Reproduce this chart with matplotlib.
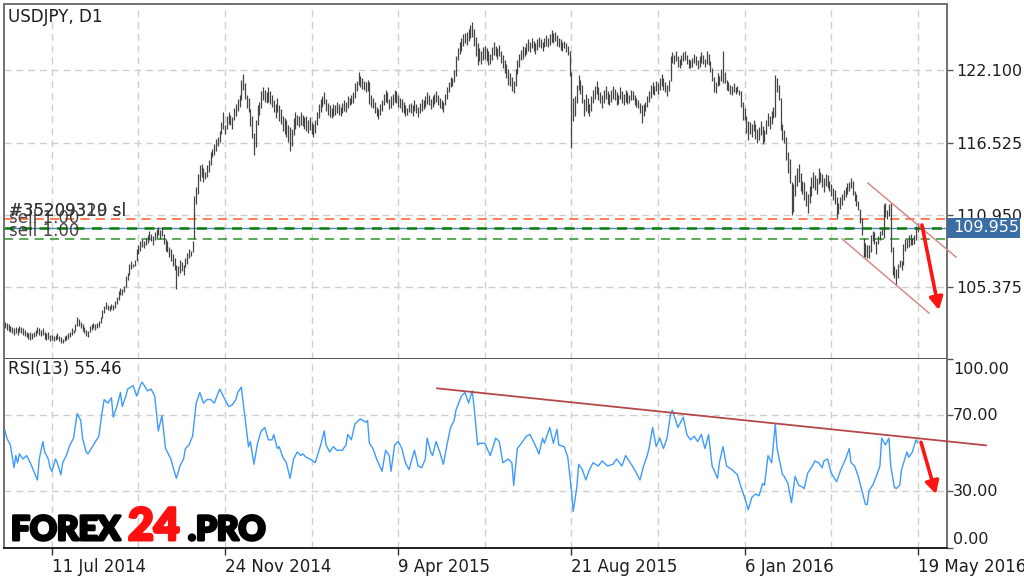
import matplotlib
matplotlib.use("Agg")
import matplotlib.pyplot as plt
import matplotlib.patheffects as pe
from matplotlib.patches import Rectangle
import numpy as np

# ---------------- data ----------------
bar_high = [
    102.7,102.6,102.5,102.4,102.3,102.2,102.3,102.2,102.4,102.3,102.2,102.1,101.9,101.8,101.9,101.8,101.9,102.1,102.3,102.2,102.1,102.2,101.9,101.8,101.9,101.7,
    101.7,101.6,101.7,101.8,101.6,101.5,101.4,101.6,101.7,101.8,101.9,102.2,102.1,102.5,103.05,102.9,102.7,102.5,102.3,102.1,102.0,102.4,102.5,102.6,102.5,102.6,102.8,103.1,
    103.6,103.9,104.2,104.0,103.9,104.1,104.0,104.3,104.6,105.1,105.3,105.2,105.5,106.2,106.5,107.2,107.4,107.2,107.5,108.3,
    108.6,108.9,109.1,108.9,109.2,109.4,109.7,109.5,109.3,109.6,109.9,110.0,109.8,110.0,109.5,109.1,108.9,108.5,108.3,107.9,107.6,107.1,107.0,107.5,
    107.3,107.1,107.6,108.0,108.3,108.2,108.9,112.4,113.1,114.1,114.8,114.9,114.6,114.3,114.8,115.2,115.8,116.0,116.4,116.8,117.0,117.4,118.1,118.9,
    117.9,118.6,118.9,118.7,118.5,119.2,119.5,119.9,120.2,121.4,121.85,121.1,120.2,120.0,119.1,118.6,117.3,118.3,119.4,119.7,120.5,120.8,120.6,120.4,
    120.8,120.5,120.2,119.8,119.5,120.0,119.4,119.1,118.6,118.4,118.3,117.9,117.7,117.6,118.4,118.9,118.7,118.6,118.9,118.7,118.5,118.6,118.3,118.5,
    118.1,118.0,118.3,118.9,119.5,119.9,120.1,120.4,119.9,119.6,119.4,119.2,119.5,119.4,119.7,119.5,119.3,119.6,119.8,119.7,120.1,120.0,120.2,120.4,
    121.1,121.3,122.0,121.7,121.5,121.3,121.2,121.4,121.2,120.2,120.0,119.7,119.3,119.1,119.5,119.8,120.3,120.6,120.4,119.9,120.1,120.3,120.6,120.5,
    120.2,120.0,119.9,119.7,119.4,119.2,119.5,119.6,119.4,119.8,119.5,119.3,119.6,119.9,119.8,120.1,120.4,120.2,119.9,120.1,120.3,120.5,120.2,120.0,
    119.8,119.7,120.3,120.8,121.2,121.6,121.5,122.1,123.2,123.8,124.3,124.6,124.9,125.0,125.1,125.3,125.6,125.86,125.3,124.7,124.2,123.8,123.6,123.9,
    124.0,123.8,123.6,123.4,123.9,124.3,124.0,123.8,124.1,123.6,123.3,122.9,122.6,122.2,121.9,121.6,121.3,122.2,122.9,123.4,123.7,124.0,123.9,124.2,
    124.5,124.3,124.6,124.4,124.2,124.5,124.7,124.5,124.3,124.6,124.8,124.6,124.9,125.2,125.0,125.1,124.8,124.6,124.5,124.3,124.4,124.2,124.0,123.6,
    122.0,120.0,120.1,121.0,121.75,121.4,121.0,119.9,120.3,120.0,119.5,120.1,120.6,120.9,121.3,120.8,120.4,120.2,120.6,120.9,120.5,120.3,120.6,120.9,
    120.7,120.4,120.2,120.8,120.5,120.3,120.6,120.4,120.2,120.6,120.5,120.2,120.0,119.8,119.6,119.4,119.5,119.7,120.1,120.5,121.0,121.2,120.9,121.3,
    121.1,121.5,121.8,121.5,121.2,121.0,121.4,123.2,123.5,123.3,123.6,123.2,123.0,123.3,123.5,123.6,123.3,123.0,122.9,123.1,123.4,123.2,122.9,123.2,
    123.5,123.3,123.0,123.6,123.4,122.8,122.3,121.6,121.2,121.9,121.7,122.2,123.6,122.0,121.4,121.2,121.0,120.9,121.1,120.8,120.9,120.6,120.5,119.7,
    119.2,118.6,118.2,118.1,118.0,118.3,118.0,117.6,117.7,118.2,117.8,117.5,118.3,118.8,118.6,119.0,119.3,121.75,121.5,121.0,120.0,118.0,117.5,117.0,
    115.8,115.3,113.5,113.3,114.0,114.6,114.9,114.2,113.6,113.5,112.8,112.6,113.2,113.9,114.3,114.0,113.8,114.6,114.3,114.1,113.8,114.1,114.0,113.6,
    113.3,113.0,112.9,112.3,111.9,112.3,112.6,112.9,113.1,113.4,113.5,113.8,113.6,112.8,112.6,112.0,111.4,110.7,109.2,108.8,108.6,108.6,109.4,109.7,
    109.6,108.9,109.3,109.7,109.9,111.8,111.9,111.3,111.8,111.9,108.5,107.0,106.8,107.2,107.5,107.4,108.7,109.1,109.1,109.4,109.5,109.2,109.4,110.1,110.3,
]
bar_low = [
    102.2,102.1,102.0,101.9,101.8,101.7,101.8,101.7,101.9,101.8,101.7,101.6,101.5,101.4,101.3,101.4,101.5,101.6,101.8,101.7,101.6,101.7,101.4,101.3,101.4,101.2,
    101.3,101.2,101.3,101.4,101.2,101.1,101.1,101.2,101.3,101.4,101.5,101.7,101.8,102.0,102.4,102.4,102.2,102.0,101.8,101.6,101.5,101.9,102.1,102.2,102.1,102.2,102.3,102.6,
    103.0,103.4,103.7,103.6,103.5,103.7,103.6,103.8,104.1,104.4,104.8,104.8,105.0,105.4,105.9,106.3,106.8,106.9,107.0,107.4,
    107.9,108.2,108.5,108.4,108.6,108.8,109.0,108.9,108.6,109.0,109.2,109.4,109.1,109.3,108.7,108.2,108.1,107.7,107.4,107.0,106.7,105.2,106.2,106.5,
    106.6,106.3,106.9,107.2,107.6,107.8,108.1,109.1,111.8,112.6,113.6,113.9,113.5,113.7,113.9,114.3,114.8,115.4,115.6,115.9,116.3,116.6,117.2,117.6,
    117.2,117.6,118.0,117.9,117.6,118.3,118.6,119.0,119.3,119.8,120.6,119.9,119.2,118.9,117.8,116.9,115.6,116.2,117.9,118.7,119.2,119.8,119.7,119.6,
    119.7,119.5,119.3,118.9,118.4,118.9,118.2,118.0,117.4,117.2,117.0,116.6,115.9,116.3,117.1,117.6,117.9,117.7,117.9,117.8,117.6,117.4,117.3,117.5,
    117.2,117.0,117.3,117.9,118.4,118.9,119.3,119.5,119.0,118.7,118.5,118.4,118.6,118.7,118.8,118.7,118.6,118.8,119.0,118.9,119.2,119.4,119.5,119.6,
    120.0,120.5,121.0,120.8,120.7,120.6,120.4,120.5,119.5,119.3,119.2,118.8,118.6,118.35,118.7,119.0,119.4,119.7,119.6,119.1,119.2,119.4,119.7,119.6,
    119.3,119.2,118.9,118.8,118.6,118.7,118.9,118.8,118.6,119.0,118.8,118.5,118.8,119.0,119.1,119.3,119.5,119.4,119.1,119.3,119.5,119.7,119.4,119.2,
    119.1,118.9,119.4,119.9,120.4,120.8,120.9,121.2,121.7,122.9,123.4,123.6,124.0,124.2,124.1,124.4,124.6,124.7,124.0,123.2,122.5,122.8,122.6,122.9,
    123.0,122.8,122.5,122.6,122.9,123.3,123.2,123.0,123.2,122.7,122.3,121.9,121.5,121.0,120.9,120.5,120.35,120.9,121.8,122.4,122.9,123.0,123.2,123.4,
    123.6,123.5,123.8,123.6,123.4,123.7,123.9,123.8,123.6,123.9,124.0,123.9,124.1,124.3,124.2,124.4,124.0,123.9,123.7,123.6,123.8,123.5,123.3,121.7,
    116.15,118.2,118.6,119.6,120.6,120.3,119.6,118.6,119.0,118.8,118.6,119.0,119.6,119.9,120.3,119.8,119.6,119.2,119.6,119.9,119.5,119.4,119.7,119.9,
    119.8,119.4,119.5,119.9,119.6,119.4,119.7,119.5,119.6,119.8,119.8,119.4,119.3,119.2,118.8,118.05,118.6,119.0,119.3,119.7,120.0,120.3,120.2,120.5,
    120.3,120.6,120.9,120.6,120.4,120.1,120.5,121.3,122.7,122.6,122.8,122.4,122.3,122.5,122.8,122.9,122.6,122.3,122.3,122.4,122.7,122.5,122.2,122.4,
    122.7,122.6,122.4,122.6,122.5,122.0,121.3,120.4,120.35,120.9,121.0,121.3,121.1,121.1,120.6,120.5,120.3,120.2,120.4,120.3,120.4,120.2,119.3,118.3,
    118.3,117.3,116.7,117.2,117.0,117.4,116.8,116.5,116.7,117.1,116.4,116.6,117.2,117.8,117.6,118.0,118.4,118.5,120.4,119.8,117.5,116.7,116.5,115.2,
    114.2,113.4,110.98,111.2,112.4,113.2,113.5,112.8,112.6,112.1,111.6,111.1,111.9,112.4,113.0,112.9,112.6,113.3,113.5,113.1,112.7,113.2,113.0,112.8,
    112.4,112.1,111.8,110.75,111.0,111.4,111.7,112.1,112.3,112.6,112.8,113.0,112.5,112.0,111.6,111.3,110.3,109.4,107.65,107.7,107.6,107.65,108.1,108.9,
    108.7,107.9,108.7,109.0,109.4,109.2,110.8,110.6,110.9,108.1,106.3,106.1,105.55,106.1,106.9,106.7,107.1,108.2,108.4,108.5,108.6,108.6,108.7,109.0,109.6,
]

rsi_idx = [0,1,3,5,6,7,8,10,12,14,16,18,19,21,22,24,25,26,28,29,31,32,34,36,38,40,42,43,45,46,49,52,54,55,57,59,60,62,64,65,67,68,71,73,75,76,79,81,83,85,87,89,92,93,95,97,99,100,102,104,106,108,110,112,114,116,119,121,124,126,128,129,131,133,135,136,138,140,142,144,146,148,149,151,152,154,156,158,160,162,164,165,167,169,172,175,177,178,180,182,184,187,189,190,192,194,197,200,201,202,204,206,209,211,213,214,216,218,220,222,224,225,227,229,231,233,234,236,237,239,241,243,245,247,249,250,253,255,257,259,260,262,263,266,269,272,274,276,279,281,282,284,287,289,291,293,296,298,299,302,304,306,307,310,312,314,315,317,318,320,322,324,326,329,331,334,337,339,342,344,346,349,352,354,356,357,359,361,363,365,367,369,370,373,376,378,380,382,384,386,388,390,392,395,396,398,400,403,406,408,410,412,414,416,418,420,421,423,425,427,428,431,432,434,436,438,440,442,443,445,447,449,451,453,454,456,458,461,463,466,468,469,471,473,475,477,478,479,481,483,485,486,488,490,491,493,494,496,497,500,501,503,505,506]
rsi_val = [62,58,54.4,42.4,48.8,45,49.7,47,48.8,45,40.5,35.9,47,56.2,50.7,47,42.4,40.5,47,45,38.7,45,48.8,54.4,58,71,67.3,58,50.7,49.7,54.4,59,72.8,78.4,76.5,79.3,69.1,74.7,82.1,74.7,80.2,83.9,85.8,80.2,85.8,87.6,83,83.9,80.2,61.8,70,52.5,47,43.3,36.8,43.3,47,52.5,54.4,59,76.5,82.1,76.5,78.4,78.4,76.5,83.9,80.2,74.7,75.6,78.4,82.1,84.9,69.1,53.5,56.2,44.2,55.3,61.8,63.6,57.1,57.1,59.9,52.5,53.5,47.9,45,36.8,47,50.7,48.8,49.7,47.9,47,45,54.4,61.8,54.4,50.7,53.5,51.6,51.6,54.4,59.9,57.1,65.5,68.2,66.4,67.3,55.3,52.5,47,40.5,51.6,48.8,40.5,54.4,56.2,52.5,45,41.4,45,51.6,43.3,42.4,47,58,50.7,48.8,56.2,50.7,44.2,54.4,63.6,67.3,72.8,80.2,82.1,76.5,83,75,54.4,55.3,55.3,48.8,58,56.2,45,47,45,33.1,52.5,56.2,59,59.9,56.2,49.7,58,55.3,63.6,55.3,62.7,54.4,53.5,47.9,30.4,19.3,32.2,44.2,41.4,35.9,41.4,45,43.3,46,43.3,44.2,47,43.3,48.8,46,41.4,35.9,43.3,48.8,52.5,63.6,53.5,58,52.5,58,71,72.8,63.6,69.1,59.9,57.1,59,56.2,59.9,52.5,59.9,43.3,36.8,45,53.5,43.3,41.4,38.7,32.2,26.7,20.2,26.7,28.5,27.6,34.1,33.1,48.8,45,65.5,52.5,38.7,37.8,34.1,23.9,37.8,33.1,32.2,31.3,39.6,42.4,46,45,42.4,46,47,39.6,35,40.5,47,52.5,45,43.3,37.8,30.4,23,23,30.4,33.1,37.8,43.3,58,54.4,58,43.3,32.2,31.3,33.1,41.4,50.7,47.9,50.7,57.1,55.46]

price_ticks = [105.375, 110.950, 116.525, 122.100]
rsi_levels = [0, 30, 70, 100]
grid_idx = [26, 74, 122, 170, 218, 266, 314, 362, 410, 458, 506]
date_idx = [26, 122, 218, 314, 410, 506]
date_labels = ["11 Jul 2014", "24 Nov 2014", "9 Apr 2015", "21 Aug 2015", "6 Jan 2016", "19 May 2016"]
last_price = 109.955
sl_price = 110.62
open_price = 109.91
tp_price = 109.07
rsi_last = 55.46

# ---------------- layout ----------------
W, H = 1024, 577
fig = plt.figure(figsize=(W / 100, H / 100), dpi=100)
fig.patch.set_facecolor("white")

def fx(px):
    return px / W

def fy(py):
    return 1 - py / H

L, R, T, MID, B = 4, 947, 4, 358.6, 548
ax = fig.add_axes([fx(L), fy(MID), fx(R) - fx(L), fy(T) - fy(MID)])
ax2 = fig.add_axes([fx(L), fy(B), fx(R) - fx(L), fy(MID) - fy(B)], sharex=ax)

n = min(len(bar_high), len(bar_low))
xs = np.arange(n)
ax.set_xlim(-0.55, 522.2)
ax.set_ylim(99.86, 127.23)
ax2.set_ylim(0, 100)

grid_kw = dict(color="#cfcfcf", lw=1.0, ls=(0, (5, 3.5)), zorder=0)
for g in grid_idx:
    ax.axvline(g, **grid_kw)
    ax2.axvline(g, **grid_kw)
for p in price_ticks:
    ax.axhline(p, **grid_kw)
for r in [30, 70]:
    ax2.axhline(r, **grid_kw)

# bars
ax.vlines(xs, np.array(bar_low[:n]), np.array(bar_high[:n]), color="#454545", lw=0.9, zorder=3)

# order lines
ax.axhline(sl_price, color="#ff5a1e", lw=1.1, ls=(0, (6, 4)), zorder=2)
ax.axhline(last_price, color="#5a82bd", lw=1.0, zorder=2)
ax.axhline(open_price, color="#0b7d0b", lw=1.8, ls=(0, (4, 3)), zorder=2)
ax.axhline(tp_price, color="#2a952a", lw=1.1, ls=(0, (6, 4)), zorder=2)

# channel
chan_col = "#d98a8a"
ax.plot([478.4, 527.2], [113.4, 107.7], color=chan_col, lw=1.1, clip_on=False, zorder=4)
ax.plot([464.0, 512.2], [109.1, 103.38], color=chan_col, lw=1.1, clip_on=False, zorder=4)
ax.annotate("", xy=(517.7, 103.6), xytext=(508.3, 110.17),
            arrowprops=dict(arrowstyle="-|>,head_length=0.75,head_width=0.4",
                            color="#ff1414", lw=2.6, shrinkA=0, shrinkB=0),
            annotation_clip=False, zorder=5)

# RSI
ax2.plot(rsi_idx, rsi_val, color="#3d9bff", lw=1.0, zorder=3)
ax2.plot([239.5, 543.8], [84.3, 54.2], color="#b5484a", lw=1.3, clip_on=False, zorder=4)
ax2.annotate("", xy=(516.1, 28.4), xytext=(507.8, 55.8),
             arrowprops=dict(arrowstyle="-|>,head_length=0.75,head_width=0.4",
                             color="#ff1414", lw=2.6, shrinkA=0, shrinkB=0),
             annotation_clip=False, zorder=5)

# spines / ticks
for a in (ax, ax2):
    for s in a.spines.values():
        s.set_color("#707070")
        s.set_linewidth(1.4)
ax.spines["bottom"].set_color("#505050")
ax2.spines["top"].set_visible(False)
ax2.spines["bottom"].set_color("#202020")

ax.yaxis.tick_right()
ax.set_yticks(price_ticks)
ax.set_yticklabels(["%.3f" % p for p in price_ticks])
ax.tick_params(axis="y", length=4, width=1, color="#555555", pad=3, labelsize=11.5, labelcolor="#1e1e1e")
ax.tick_params(axis="x", length=0, labelbottom=False)

ax2.yaxis.tick_right()
ax2.set_yticks(rsi_levels)
ax2.set_yticklabels([])
ax2.tick_params(axis="y", length=4, width=1, color="#555555")
ax2.set_xticks(date_idx)
ax2.set_xticklabels(date_labels, ha="left")
ax2.tick_params(axis="x", length=5, width=1, color="#333333", pad=2, labelsize=12, labelcolor="#1e1e1e")

for lvl, py in zip([100, 70, 30, 0], [369, 416, 492, 539]):
    fig.text(fx(953), fy(py), "%.2f" % lvl, fontsize=11.5, color="#1e1e1e", va="center", ha="left")

# current price label
fig.patches.append(Rectangle((fx(947), fy(237.7)), fx(1020) - fx(947), (237.7 - 218) / H,
                             transform=fig.transFigure, facecolor="#3b6ea5", edgecolor="none"))
fig.text(fx(953), fy(228), "%.3f" % last_price, fontsize=11.5, color="white", va="center", ha="left")

# titles
fig.text(fx(8), fy(17.5), "USDJPY, D1", fontsize=12, color="#1e1e1e", va="center", ha="left")
fig.text(fx(8), fy(369), "RSI(13) %.2f" % rsi_last, fontsize=12, color="#1e1e1e", va="center", ha="left")

# order labels (they overlap in the reference as well)
txt_kw = dict(fontsize=12, color="#333333", va="center", ha="left", alpha=0.9)
fig.text(fx(9), fy(211), "#35209319 sl", **txt_kw)
fig.text(fx(9), fy(211), "#35209320 sl", **txt_kw)
fig.text(fx(9), fy(218), "sell 1.00", **txt_kw)
fig.text(fx(9), fy(231), "sell 1.00", **txt_kw)

# logo
def logo(xp, s, size, col):
    t = fig.text(fx(xp), fy(540), s, fontsize=size, color=col,
                 family=["Lato", "DejaVu Sans"], fontweight="black",
                 va="baseline", ha="left")
    t.set_path_effects([pe.Stroke(linewidth=2.2, foreground=col), pe.Normal()])
    return t

logo(11, "FOREX", 24, "black")
logo(128, "24", 32, "#ff1010")
logo(188, ".PRO", 24, "black")

fig.savefig("out.png", dpi=100, facecolor="white")
